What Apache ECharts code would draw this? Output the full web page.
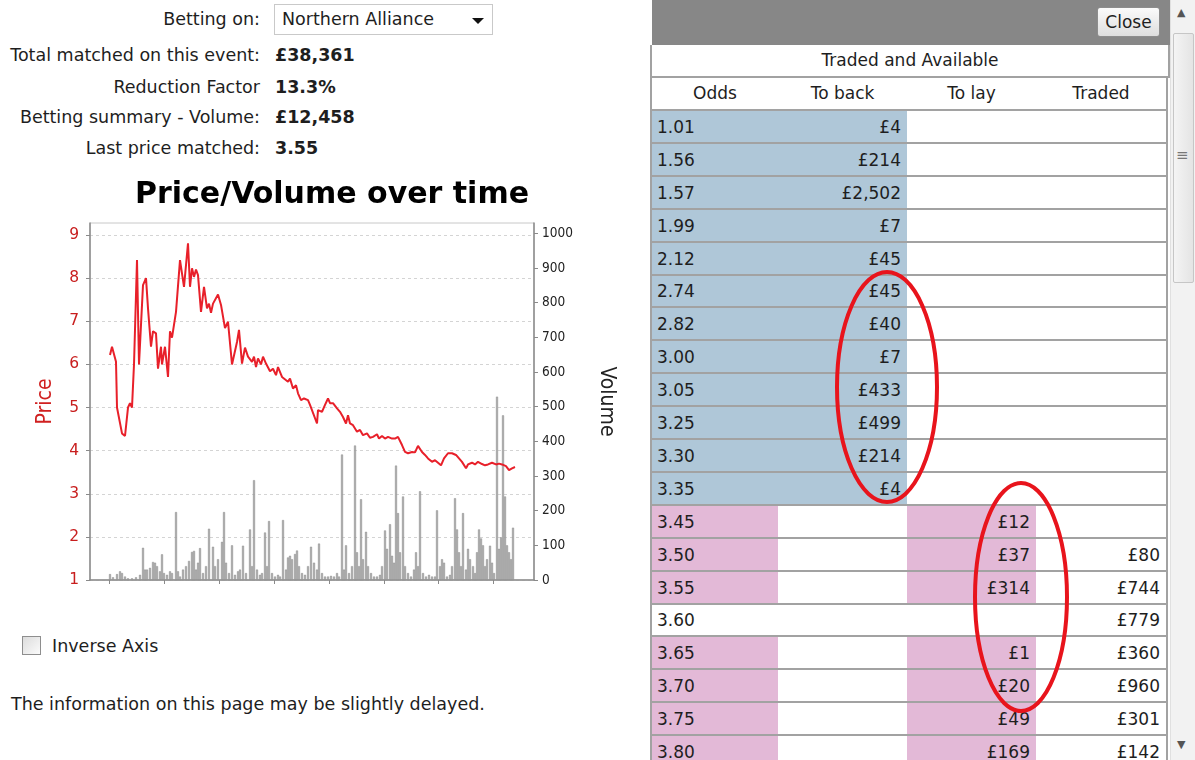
<!DOCTYPE html>
<html>
<head>
<meta charset="utf-8">
<title>Price/Volume over time</title>
<script src="https://cdn.jsdelivr.net/npm/echarts@6.0.0/dist/echarts.min.js"></script>
<style>
  body {
    margin: 0;
    width: 1195px;
    height: 760px;
    overflow: hidden;
    position: relative;
    background: #fff;
    color: #1e1e1e;
    font-family: "DejaVu Sans", sans-serif;
    font-size: 17.5px;
  }
  .abs { position: absolute; white-space: nowrap; }
  .lbl { left: 0; width: 260px; text-align: right; line-height: 20px; }
  .val { left: 275px; font-weight: bold; line-height: 20px; }
  #chart { position: absolute; left: 0; top: 170px; width: 650px; height: 430px; }
  #select {
    left: 274px; top: 4px; width: 219px; height: 31px; box-sizing: border-box;
    border: 1px solid #c9c9c9; background: #fff; line-height: 29px; padding-left: 7px;
  }
  #select .arrow {
    position: absolute; right: 8px; top: 13px; width: 0; height: 0;
    border-left: 6px solid transparent; border-right: 6px solid transparent; border-top: 6px solid #111;
  }
  #checkbox {
    left: 22px; top: 636px; width: 19px; height: 19px; box-sizing: border-box;
    border: 1px solid #8e8e8e; background: linear-gradient(135deg, #dcdcdc, #fbfbfb);
  }
  #panel-head { left: 652px; top: 0; width: 518px; height: 45px; background: #878787; }
  #close {
    left: 1097px; top: 7px; width: 63px; height: 30px; box-sizing: border-box;
    border: 1px solid #8d8d8d; border-radius: 3px; text-align: center; line-height: 28px;
    background: linear-gradient(#fbfbfb, #dedede); font-size: 17px;
  }
  .cell {
    position: absolute; box-sizing: border-box; white-space: nowrap;
    border-right: 2px solid #a2a2a2; border-bottom: 2px solid #a2a2a2;
    font-size: 17px; overflow: hidden;
  }
  #scroll { left: 1170px; top: 0; width: 25px; height: 760px; background: #f2f2f2; border-left: 1px solid #e0e0e0; }
  #thumb {
    left: 1173px; top: 33px; width: 21px; height: 250px; box-sizing: border-box;
    border: 1px solid #c6c6c6; border-radius: 2px; background: linear-gradient(90deg, #f4f4f4, #e4e4e4);
  }
</style>
</head>
<body>
<div class="abs lbl" style="top:9px">Betting on:</div>
<div class="abs" id="select">Northern Alliance<span class="arrow"></span></div>
<div class="abs lbl" style="top:45px">Total matched on this event:</div>
<div class="abs val" style="top:45px">£38,361</div>
<div class="abs lbl" style="top:77px">Reduction Factor</div>
<div class="abs val" style="top:77px">13.3%</div>
<div class="abs lbl" style="top:107px">Betting summary - Volume:</div>
<div class="abs val" style="top:107px">£12,458</div>
<div class="abs lbl" style="top:138px">Last price matched:</div>
<div class="abs val" style="top:138px">3.55</div>

<div id="chart"></div>

<div class="abs" id="checkbox"></div>
<div class="abs" style="left:52px; top:636px; line-height:20px">Inverse Axis</div>
<div class="abs" style="left:11px; top:694px; line-height:20px">The information on this page may be slightly delayed.</div>

<div class="abs" id="panel-head"></div>
<div class="abs" id="close">Close</div>
<div id="table"></div>
<div class="abs" id="scroll"></div>
<div class="abs" id="thumb"></div>
<div class="abs" style="left:1176px; top:146px; font-size:15px; color:#777">≡</div>
<div class="abs" style="left:1177px; top:6px; font-size:11px; color:#555">▲</div>
<div class="abs" style="left:1177px; top:738px; font-size:11px; color:#555">▼</div>
<svg class="abs" style="left:0; top:0" width="1195" height="760">
  <ellipse cx="887" cy="387" rx="50" ry="115" fill="none" stroke="#e8141c" stroke-width="4"/>
  <ellipse cx="1021" cy="597" rx="46" ry="114" fill="none" stroke="#e8141c" stroke-width="4"/>
</svg>

<script>
'use strict';

// price line, [time, price]; time runs in minutes from the chart's left edge
const pricePoints = [
    [20, 6.22], [22, 6.41], [26, 6.06], [27, 5.0], [29, 5.0], [32, 4.4], [35, 4.34], [38, 5.0],
    [40, 5.1], [42, 5.0], [44, 6.0], [47, 8.42], [49, 6.0], [53, 7.84], [56, 8.0], [58, 7.3],
    [61, 6.41], [63, 6.77], [66, 6.72], [68, 5.9], [71, 6.41], [72, 6.0], [75, 6.41], [78, 5.71],
    [80, 6.77], [82, 6.62], [86, 7.22], [90, 8.42], [94, 7.8], [98, 8.81], [100, 7.8], [102, 8.23],
    [104, 8.03], [106, 8.2], [108, 8.07], [111, 7.22], [114, 7.8], [117, 7.3], [119, 7.41], [121, 7.2],
    [123, 7.41], [128, 7.62], [131, 7.38], [135, 6.84], [138, 6.99], [142, 6.0], [147, 6.52], [149, 6.8],
    [152, 6.02], [155, 6.39], [158, 6.18], [162, 6.06], [164, 6.18], [166, 5.94], [168, 6.14], [171, 6.0],
    [173, 6.18], [176, 6.02], [180, 5.84], [183, 5.9], [186, 5.75], [188, 5.94], [192, 5.71], [194, 5.75],
    [198, 5.6], [200, 5.67], [203, 5.44], [206, 5.52], [208, 5.33], [211, 5.17], [214, 5.21], [218, 5.17],
    [220, 5.06], [222, 5.02], [227, 4.63], [228, 4.94], [232, 4.9], [235, 5.06], [238, 5.21], [240, 5.1],
    [243, 5.1], [247, 4.98], [250, 4.9], [253, 4.78], [256, 4.63], [258, 4.82], [260, 4.63], [263, 4.59],
    [267, 4.44], [270, 4.48], [273, 4.36], [277, 4.4], [280, 4.3], [283, 4.32], [287, 4.38], [289, 4.28],
    [292, 4.34], [295, 4.28], [298, 4.32], [302, 4.28], [305, 4.28], [308, 4.32], [312, 4.13], [315, 3.97],
    [318, 3.94], [322, 3.97], [325, 3.96], [328, 4.11], [332, 3.97], [335, 3.9], [338, 3.82], [342, 3.74],
    [345, 3.78], [348, 3.72], [351, 3.66], [354, 3.82], [358, 3.94], [362, 3.94], [366, 3.9], [369, 3.82],
    [372, 3.74], [376, 3.59], [378, 3.68], [382, 3.72], [385, 3.68], [388, 3.74], [392, 3.69], [395, 3.66],
    [398, 3.68], [402, 3.72], [406, 3.68], [409, 3.7], [412, 3.68], [416, 3.64], [419, 3.55], [422, 3.59],
    [425, 3.62]
];

// traded volume, [time, volume]
const volumeBars = [
    [20, 17], [23, 8], [27, 17], [30, 25], [32, 20], [35, 10], [38, 5], [42, 5], [46, 8], [50, 15],
    [53, 93], [55, 30], [57, 30], [60, 35], [63, 52], [65, 50], [67, 40], [70, 25], [72, 74], [74, 20],
    [77, 15], [80, 25], [82, 20], [86, 196], [88, 25], [90, 10], [93, 30], [96, 40], [99, 55], [102, 81],
    [104, 84], [106, 30], [108, 50], [110, 92], [113, 20], [116, 40], [119, 148], [123, 96], [125, 40],
    [128, 60], [132, 110], [134, 196], [136, 50], [139, 20], [142, 100], [145, 15], [148, 25], [150, 30],
    [153, 99], [156, 20], [160, 146], [162, 40], [164, 288], [167, 30], [170, 15], [172, 20], [175, 137],
    [177, 40], [179, 170], [182, 20], [185, 10], [188, 15], [190, 10], [193, 173], [196, 30], [198, 65],
    [200, 70], [202, 60], [205, 75], [207, 85], [209, 40], [212, 20], [215, 15], [218, 40], [221, 96],
    [224, 50], [227, 30], [229, 105], [232, 20], [235, 10], [238, 10], [241, 12], [244, 10], [247, 20],
    [249, 10], [252, 362], [254, 30], [256, 100], [259, 20], [262, 40], [265, 388], [267, 80], [269, 40],
    [271, 233], [273, 60], [276, 139], [278, 40], [281, 20], [284, 10], [287, 10], [290, 15], [292, 40],
    [295, 143], [297, 90], [300, 161], [302, 70], [304, 50], [306, 330], [308, 193], [310, 80], [313, 241],
    [315, 40], [318, 20], [321, 10], [324, 30], [326, 80], [328, 40], [330, 256], [333, 20], [336, 10],
    [339, 15], [342, 10], [345, 10], [347, 201], [350, 40], [352, 60], [354, 50], [357, 10], [360, 15],
    [362, 40], [365, 236], [367, 146], [369, 80], [371, 40], [373, 193], [376, 30], [378, 90], [380, 60],
    [383, 40], [385, 20], [387, 80], [389, 146], [391, 120], [393, 100], [395, 40], [397, 60], [400, 99],
    [402, 50], [404, 20], [407, 529], [409, 90], [411, 123], [413, 475], [415, 241], [417, 100], [419, 80],
    [421, 60], [423, 151]
];

const timeTicks = [19, 74, 129, 184, 239, 294, 348, 403];
const priceTicks = [1, 2, 3, 4, 5, 6, 7, 8, 9];
const volumeTicks = [0, 100, 200, 300, 400, 500, 600, 700, 800, 900, 1000];

// Traded and Available ladder
const oddsLevels = ['1.01', '1.56', '1.57', '1.99', '2.12', '2.74', '2.82', '3.00', '3.05', '3.25',
    '3.30', '3.35', '3.45', '3.50', '3.55', '3.60', '3.65', '3.70', '3.75', '3.80'];
const toBack = ['£4', '£214', '£2,502', '£7', '£45', '£45', '£40', '£7', '£433', '£499',
    '£214', '£4', '', '', '', '', '', '', '', ''];
const toLay = ['', '', '', '', '', '', '', '', '', '',
    '', '', '£12', '£37', '£314', '', '£1', '£20', '£49', '£169'];
const traded = ['', '', '', '', '', '', '', '', '', '',
    '', '', '', '£80', '£744', '£779', '£360', '£960', '£301', '£142'];

(function () {
    const table = document.getElementById('table');
    const colLeft = [652, 780, 909, 1038];
    const colWidth = [128, 129, 129, 130];
    const backColor = '#afc7d8';
    const layColor = '#e3b9d7';
    const line = '2px solid #a2a2a2';

    function cell(left, top, width, height, text, align, bg, extra) {
        const div = document.createElement('div');
        div.className = 'cell';
        div.style.left = left + 'px';
        div.style.top = top + 'px';
        div.style.width = width + 'px';
        div.style.height = height + 'px';
        div.style.lineHeight = (height - 3) + 'px';
        div.style.textAlign = align;
        div.style.padding = align === 'right' ? '0 6px 0 0' : align === 'left' ? '0 0 0 5px' : '0';
        div.style.background = bg || '#fff';
        if (extra) {
            Object.assign(div.style, extra);
        }
        div.textContent = text;
        table.appendChild(div);
    }

    cell(650, 45, 520, 33, 'Traded and Available', 'center', '#fff', { borderLeft: line });
    ['Odds', 'To back', 'To lay', 'Traded'].forEach((h, i) => {
        cell(colLeft[i] - 2, 78, colWidth[i] + 2, 33, h, 'center', '#fff',
            i === 0 ? { borderLeft: line } : null);
    });

    const rowH = 32.9;
    oddsLevels.forEach((odds, r) => {
        const top = Math.round(109 + rowH * r);
        const next = Math.round(109 + rowH * (r + 1));
        const h = next - top + 2;
        const isBack = toBack[r] !== '';
        const isLay = toLay[r] !== '';
        const oddsBg = isBack ? backColor : isLay ? layColor : '#fff';
        cell(colLeft[0] - 2, top, colWidth[0] + 2, h, odds, 'left', oddsBg,
            { borderLeft: line, borderTop: line });
        cell(colLeft[1] - 2, top, colWidth[1] + 2, h, toBack[r], 'right', isBack ? backColor : '#fff',
            { borderTop: line });
        cell(colLeft[2] - 2, top, colWidth[2] + 2, h, toLay[r], 'right', isLay ? layColor : '#fff',
            { borderTop: line });
        cell(colLeft[3] - 2, top, colWidth[3] + 2, h, traded[r], 'right', '#fff',
            { borderTop: line });
    });
})();

(function () {
    const container = document.getElementById('chart');
    const fontFamily = '"DejaVu Sans", sans-serif';
    const tickFont = '"DejaVu Sans Condensed", "DejaVu Sans", sans-serif';
    const options = {
        animation: false,
        title: {
            text: 'Price/Volume over time',
            left: 327,
            textAlign: 'center',
            top: 5,
            textStyle: {
                fontSize: 30,
                fontWeight: 'bold',
                color: '#000',
                fontFamily
            }
        },
        grid: {
            left: 90,
            right: 116,
            top: 53,
            bottom: 20,
            show: true,
            borderColor: '#c8c8c8',
            borderWidth: 1
        },
        xAxis: {
            type: 'value',
            min: 0,
            max: 444,
            axisLine: { lineStyle: { color: '#8a8a8a', width: 1.5 } },
            axisTick: { show: true, customValues: timeTicks, length: 4, lineStyle: { color: '#8a8a8a' } },
            axisLabel: { show: false },
            splitLine: { show: false }
        },
        yAxis: [
            {
                type: 'value',
                name: 'Price',
                nameLocation: 'middle',
                nameGap: 34,
                nameRotate: 90,
                nameTextStyle: { color: '#d02020', fontSize: 21, fontFamily: tickFont },
                position: 'left',
                min: 1,
                max: 9.28,
                interval: 1,
                axisLine: { show: true, lineStyle: { color: '#8a8a8a', width: 1.5 } },
                axisTick: { show: true, customValues: priceTicks, length: 4, lineStyle: { color: '#8a8a8a' } },
                axisLabel: { customValues: priceTicks, color: '#c81e1e', fontSize: 15.5, margin: 11, fontFamily },
                splitLine: { show: true, lineStyle: { color: '#d4d4d4', type: [3, 3] } }
            },
            {
                type: 'value',
                name: 'Volume',
                nameLocation: 'middle',
                nameGap: 62,
                nameRotate: -90,
                nameTextStyle: { color: '#222', fontSize: 21, fontFamily: tickFont },
                position: 'right',
                min: 0,
                max: 1030,
                interval: 100,
                axisLine: { show: true, lineStyle: { color: '#8a8a8a', width: 1.5 } },
                axisTick: { show: true, customValues: volumeTicks, length: 4, lineStyle: { color: '#8a8a8a' } },
                axisLabel: {
                    customValues: volumeTicks,
                    formatter: value => String(value),
                    color: '#222',
                    fontSize: 13.5,
                    margin: 8,
                    fontFamily: tickFont
                },
                splitLine: { show: false }
            }
        ],
        series: [
            {
                name: 'Volume',
                type: 'bar',
                yAxisIndex: 1,
                barWidth: 2,
                data: volumeBars,
                itemStyle: { color: '#ababab', borderColor: '#8c8c8c', borderWidth: 0.5 }
            },
            {
                name: 'Price',
                type: 'line',
                yAxisIndex: 0,
                data: pricePoints,
                symbol: 'none',
                lineStyle: { color: '#e8202a', width: 2 },
                z: 3
            }
        ]
    };

    const chart = echarts.init(container);
    chart.setOption(options);
})();
</script>
</body>
</html>
